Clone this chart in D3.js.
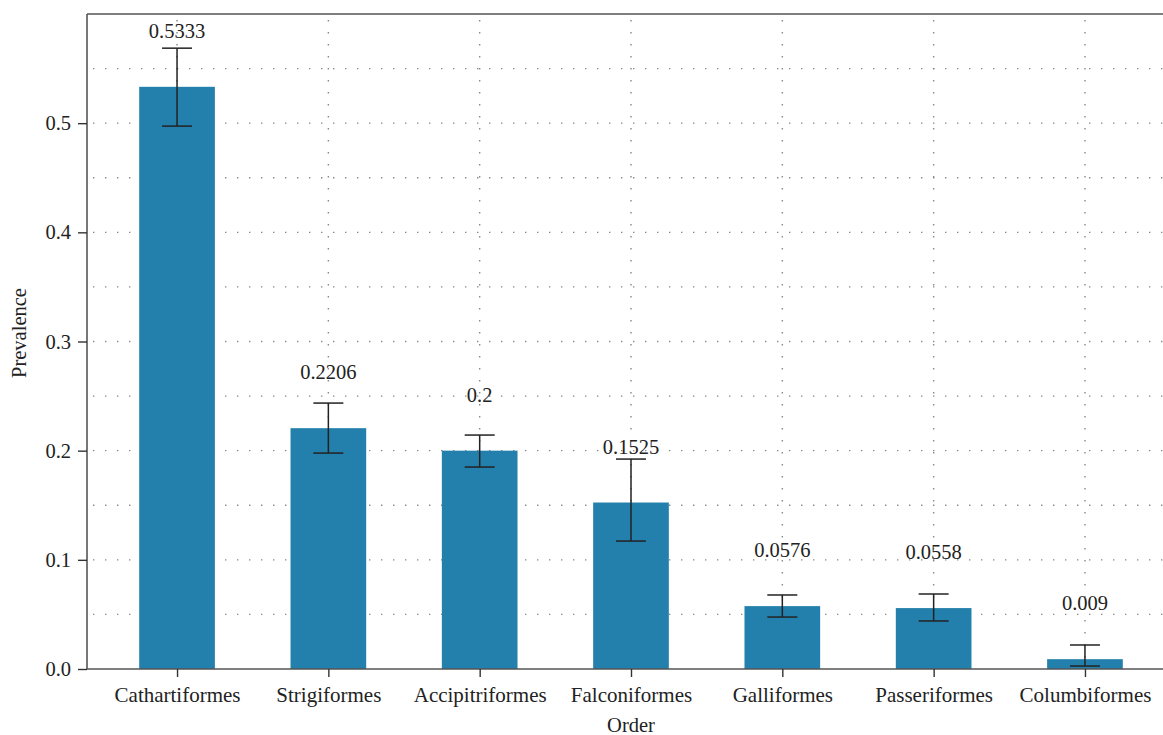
<!DOCTYPE html>
<html><head><meta charset="utf-8">
<script src="https://cdn.jsdelivr.net/npm/d3@7"></script>
<style>body{margin:0;background:#fff}svg{display:block}text{font-family:"Liberation Serif","DejaVu Serif",serif;fill:#222}</style>
</head><body>
<svg id="c" width="1163" height="735"></svg>
<script>
const categories = ["Cathartiformes","Strigiformes","Accipitriformes","Falconiformes","Galliformes","Passeriformes","Columbiformes"];
const prevalence = [0.5333,0.2206,0.2,0.1525,0.0576,0.0558,0.009];
const labels = ["0.5333","0.2206","0.2","0.1525","0.0576","0.0558","0.009"];
const errLow = [0.4973,0.1978,0.1850,0.1172,0.0476,0.0440,0.0027];
const errHigh = [0.5687,0.2436,0.2143,0.1923,0.0678,0.0687,0.0220];
const yTicks = [0,0.1,0.2,0.3,0.4,0.5];
const yTickLabels = ["0.0","0.1","0.2","0.3","0.4","0.5"];
const gridVals = d3.range(1,12).map(i=>i*0.05);

const svg = d3.select("#c");
const L=87, T=14, B=669, R=1175;
const x = d3.scaleLinear().domain([-0.595,6.595]).range([L,R]);
const y = d3.scaleLinear().domain([0,0.6]).range([B,T]);
const bw = x(0.25)-x(-0.25);
const color="#237fab";
const fs=20.5;

const g = svg.append("g");
// grid
g.selectAll(".hg").data(gridVals).join("line")
 .attr("x1",L).attr("x2",1163).attr("y1",d=>y(d)).attr("y2",d=>y(d))
 .attr("stroke","#888").attr("stroke-width",1.4).attr("stroke-dasharray","1.4,10.6").attr("stroke-dashoffset",-6);
g.selectAll(".vg").data(categories).join("line")
 .attr("x1",(d,i)=>x(i)).attr("x2",(d,i)=>x(i)).attr("y1",T).attr("y2",B)
 .attr("stroke","#888").attr("stroke-width",1.4).attr("stroke-dasharray","1.4,10.6").attr("stroke-dashoffset",-6);

// bars
g.selectAll(".bar").data(prevalence).join("rect")
 .attr("x",(d,i)=>x(i)-bw/2).attr("width",bw)
 .attr("y",d=>y(d)).attr("height",d=>B-y(d)).attr("fill",color);

// error bars
const cap=15;
prevalence.forEach((v,i)=>{
  const cx=x(i);
  g.append("line").attr("x1",cx).attr("x2",cx).attr("y1",y(errLow[i])).attr("y2",y(errHigh[i])).attr("stroke","#222").attr("stroke-width",1.5);
  g.append("line").attr("x1",cx-cap).attr("x2",cx+cap).attr("y1",y(errLow[i])).attr("y2",y(errLow[i])).attr("stroke","#222").attr("stroke-width",1.5);
  g.append("line").attr("x1",cx-cap).attr("x2",cx+cap).attr("y1",y(errHigh[i])).attr("y2",y(errHigh[i])).attr("stroke","#222").attr("stroke-width",1.5);
});

// value labels
g.selectAll(".vl").data(labels).join("text")
 .attr("x",(d,i)=>x(i)).attr("y",(d,i)=>y(prevalence[i])-49)
 .attr("text-anchor","middle").attr("font-size",fs).text(d=>d);

// axes
const yAxis = d3.axisLeft(y).tickValues(yTicks).tickFormat((d,i)=>yTickLabels[i]).tickSize(9).tickPadding(7);
const ya = svg.append("g").attr("transform",`translate(${L},0)`).call(yAxis);
ya.select(".domain").attr("stroke","#555").attr("stroke-width",1.6).attr("d",`M0,${B}V${T}`);
ya.selectAll(".tick line").attr("stroke","#333").attr("stroke-width",1.4);
ya.selectAll(".tick text").attr("font-size",fs).attr("font-family","Liberation Serif").attr("fill","#222");

const xAxis = d3.axisBottom(x).tickValues(d3.range(categories.length)).tickFormat(i=>categories[i]).tickSize(8).tickPadding(10);
const xa = svg.append("g").attr("transform",`translate(0,${B})`).call(xAxis);
xa.select(".domain").attr("stroke","#555").attr("stroke-width",1.6).attr("d",`M${L},0H1163`);
xa.selectAll(".tick line").attr("stroke","#333").attr("stroke-width",1.4);
xa.selectAll(".tick text").attr("font-size",21).attr("font-family","Liberation Serif").attr("fill","#222");

// top spine
svg.append("line").attr("x1",L).attr("x2",1163).attr("y1",T).attr("y2",T).attr("stroke","#555").attr("stroke-width",1.6);

// titles
svg.append("text").attr("transform","translate(26,333) rotate(-90)").attr("text-anchor","middle").attr("font-size",fs).text("Prevalence");
svg.append("text").attr("x",631).attr("y",732).attr("text-anchor","middle").attr("font-size",fs).text("Order");
</script>
</body></html>
